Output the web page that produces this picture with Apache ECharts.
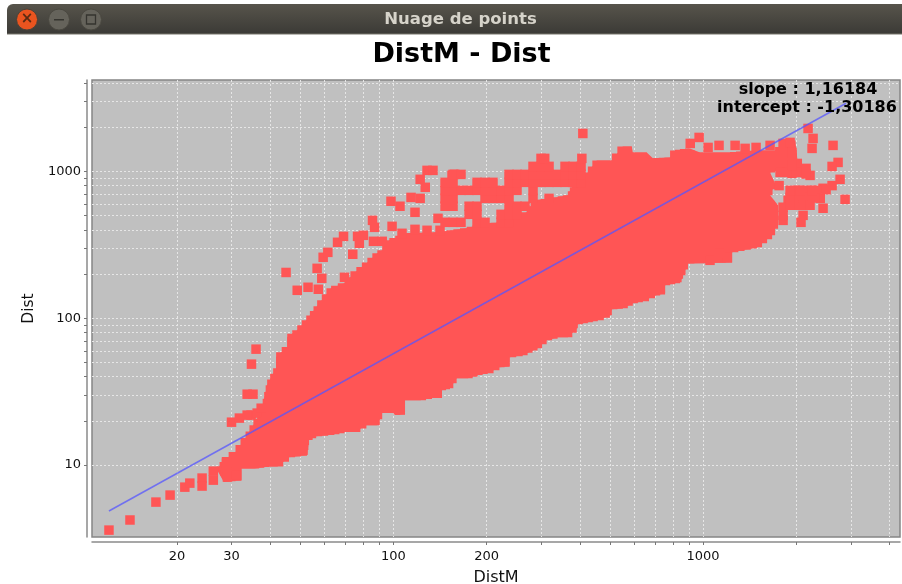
<!DOCTYPE html>
<html>
<head>
<meta charset="utf-8">
<title>Nuage de points</title>
<script src="https://cdn.jsdelivr.net/npm/echarts@6/dist/echarts.min.js"></script>
<style>
  html, body { margin: 0; padding: 0; background: #fff; }
  #main { width: 902px; height: 584px; }
</style>
</head>
<body>
<div id="main"></div>
<script>
// ticks of the two log axes
var xTicks = [20,30,40,50,60,70,80,90,100,200,300,400,500,600,700,800,900,1000,2000,3000,4000];
var xLabels = [20,30,100,200,1000];
var yTicks = [10,20,30,40,50,60,70,80,90,100,200,300,400,500,600,700,800,900,1000,2000,3000,4000];
var yLabels = [10,100,1000];

// regression line [DistM, Dist]
var fitLine = [[12.06,4.87],[2897,2913]];

// outline of the saturated part of the cloud, [DistM, Dist]
var cloudEdge = [
  [27.9,10.5],[30.9,12.3],[33.3,15.3],[37.4,22.9],[39.1,35],[41.8,45.7],[41.8,54.3],[45.4,63.6],
  [45.4,74.3],[48.9,83],[52.3,96.9],[56.7,120.7],[62.9,159.9],[69.5,172.9],[75.9,208.6],[82.4,240],
  [88.7,276.9],[92,290],[97,339.5],[110.6,378.7],[141.4,385],[172.4,409.5],[197,442.9],
  [233.8,449.8],[269.3,526.5],[285.9,635],[326.7,656],[365.8,687],[376.9,778.6],[400,869],[424.5,984],
  [453.9,1188],[507.5,1188],[550.7,1479],[588.5,1479],[593,1347],[658,1347],[689.7,1226],[782.4,1245],
  [812,1389],[906.7,1434],[978,1347],[1222,1347],[1528,1389],[1708,1389],[1985,1625],[2015,1226],
  [1840,1048],[1646,984],[1708,829],[1646,687],[1747,588],[1747,449.8],[1671,367],[1494,304],[1241,281],
  [1241,240],[894,236],[862,196],[843,175.6],[754,167.6],[754,147.8],[700,143],[639,130.5],[593,126.5],
  [550.7,117],[507.5,115],[500,104.8],[457,97],[424.5,94],[394,91],[391,85.6],[365.8,74.3],[339,74.3],
  [312.5,70.9],[292,62.6],[261.4,56],[237.3,54.3],[237.3,47.2],[220,46.4],[201.5,42.3],[187,41],
  [173.8,39],[160,39],[152.3,33.4],[143.5,32.4],[143.5,28.6],[133.2,28.6],[121.9,27.7],[109,27.7],
  [109,22.2],[101.2,21.9],[99.7,22.6],[92,22.6],[88.7,18.7],[81.8,18.7],[74.8,16.8],[69.5,16.8],
  [64.4,16.2],[56.3,15.7],[53.4,14.8],[52.6,11.7],[46,11.3],[42.2,9.8],[39.7,9.8],[35.5,9.5],
  [32.3,9.5],[32.3,7.9],[28.3,7.7],[27,9.2]
];

// single visible squares around the cloud, [DistM, Dist]
var points = [
  [12.06,3.61],[14.1,4.23],[17.1,5.6],[19,6.25],[21.2,7.08],[22,7.54],[24.1,8.16],[24.1,7.2],
  [26.2,7.9],[26.2,9.1],[29.1,8.29],[31.1,8.55],[28.9,10.3],[30,19.6],[31.8,20.9],[34.7,21.9],
  [33.7,21.9],[36.3,22.6],[37.4,24.4],
  [36,61.6],[34.8,48.7],[33.7,30.4],[35.2,30.4],[45,205],[48.9,155],[53,162.5],[57.2,157.5],
  [58.7,187],[56.7,218.7],[59.3,260],[61.4,281],[66,329],[69,361],[73.9,272.7],[69.5,190],
  [76.6,361],[80,367],[77.6,324],[85.6,464],[86.9,416],[86.2,334],[92,334],[98.2,626],[105,579],
  [114,665],[122,655],[117.4,526.5],[99,422.5],[106.6,378.7],[117.4,403],[128.4,397],[141.4,397],
  [128.4,1016],[134.2,1016],[122,883],[126.7,779],[139.3,479],[157.6,954],[154.6,939],[409,1812],
  // dense band above the cloud, rows from Dist 450 up to Dist 1226
  [146.8,450],[155.8,450],[165.3,450],[186.2,450],[197.6,450],[222.6,450],[236.2,450],
  [175.5,510],[186.2,510],[222.6,510],[236.2,510],[250.7,510],
  [146.8,579],[155.8,579],[175.5,579],[186.2,579],[236.2,579],[250.7,579],[266.1,579],
  [146.8,655],[155.8,655],[197.6,655],[209.7,655],[222.6,655],[236.2,655],[282.4,655],[318.1,655],
  [146.8,743],[155.8,743],[165.3,743],[175.5,743],[186.2,743],[197.6,743],[209.7,743],[222.6,743],[236.2,743],[250.7,743],[282.4,743],
  [146.8,842],[155.8,842],[186.2,842],[197.6,842],[209.7,842],[236.2,842],[250.7,842],[266.1,842],[282.4,842],[299.7,842],[318.1,842],[337.6,842],[358.3,842],[380.3,842],[403.6,842],
  [155.8,954],[165.3,954],[236.2,954],[250.7,954],[266.1,954],[282.4,954],[299.7,954],[318.1,954],[337.6,954],[358.3,954],[380.3,954],[403.6,954],
  [282.4,1082],[299.7,1082],[318.1,1082],[358.3,1082],[380.3,1082],[403.6,1082],
  [299.7,1226],[308,1226],[406,1226],
  // upper right end of the cloud
  [971,1703],[909,1550],[1038,1456],[1126,1503],[1269,1503],[1367,1434],[1483,1456],[1646,1503],
  [1813,1550],[1910,1575],[1938,1347],[2183,1960],[2266,1677],[2249,1434],[2629,1503],[2729,1151],
  [2610,1081],[2770,883],[2610,800],[2441,767],[2334,743],[2167,743],[2015,743],[2875,645],[2441,561],
  [2104,502],[2072,450],[1813,464],[1813,502],[2216,939],[2088,984],[1938,969],[1773,984],[2015,1133],
  [1760,800],[1882,635],[2015,665],[2216,665],[2390,655],[1813,570],[2015,588],[1053,248],[1195,260],[1135,277],
  [1910,665],[2104,665],[2300,660],[1910,743],[2057,743],[2249,743],[2496,750],[1910,588],[2104,588],
  [2216,588],[1868,984],[2015,984],[2151,960],[1938,1098],[2151,1048]
];

var chart = echarts.init(document.getElementById('main'));
var fontName = 'DejaVu Sans';

// the edge of the cloud is made of overlapping squares, so walk it in small steps
function stairs(pts, step) {
  var out = [];
  for (var i = 0; i < pts.length; i++) {
    var a = pts[i], b = pts[(i + 1) % pts.length];
    var n = Math.max(1, Math.ceil(Math.max(Math.abs(b[0] - a[0]), Math.abs(b[1] - a[1])) / step));
    for (var k = 0; k < n; k++) {
      out.push([a[0] + (b[0] - a[0]) * k / n, a[1] + (b[1] - a[1]) * (k + 1) / n]);
      out.push([a[0] + (b[0] - a[0]) * (k + 1) / n, a[1] + (b[1] - a[1]) * (k + 1) / n]);
    }
  }
  return out;
}

var option = {
  animation: false,
  backgroundColor: '#fff',
  title: {
    text: 'DistM - Dist',
    left: 456.5,
    top: 36,
    textAlign: 'center',
    textStyle: { fontFamily: fontName, fontSize: 27, fontWeight: 'bold', color: '#000' }
  },
  grid: {
    left: 92, right: 2, top: 80, bottom: 47,
    outerBoundsMode: 'none',
    show: true,
    backgroundColor: '#c0c0c0',
    borderColor: '#858585',
    borderWidth: 1.5
  },
  xAxis: {
    type: 'log',
    min: 10.63,
    max: 4325,
    offset: 5,
    name: 'DistM',
    nameLocation: 'middle',
    nameGap: 28,
    nameTextStyle: { fontFamily: fontName, fontSize: 16, color: '#111' },
    axisLine: { onZero: false, lineStyle: { color: '#8a8a8a', width: 1.5 } },
    axisTick: { customValues: xTicks, length: 3, lineStyle: { color: '#777' } },
    axisLabel: {
      customValues: xLabels, margin: 8, fontFamily: fontName, fontSize: 13, color: '#111',
      formatter: function (v) { return String(v); }
    },
    splitLine: { show: true, lineStyle: { color: '#e6e6e6', type: [2, 2], width: 1 } },
    minorTick: { show: false }
  },
  yAxis: {
    type: 'log',
    min: 3.24,
    max: 4190,
    offset: 5,
    name: 'Dist',
    nameLocation: 'middle',
    nameGap: 44,
    nameTextStyle: { fontFamily: fontName, fontSize: 15.5, color: '#111' },
    axisLine: { onZero: false, lineStyle: { color: '#8a8a8a', width: 1.5 } },
    axisTick: { customValues: yTicks, length: 3, lineStyle: { color: '#777' } },
    axisLabel: {
      customValues: yLabels, margin: 6, fontFamily: fontName, fontSize: 13, color: '#111',
      formatter: function (v) { return String(v); }
    },
    splitLine: { show: true, lineStyle: { color: '#e6e6e6', type: [2, 2], width: 1 } },
    minorTick: { show: false }
  },
  series: [
    {
      // the saturated part of the cloud, too dense to show single squares
      type: 'custom',
      silent: true,
      z: 2,
      data: [cloudEdge[0]],
      renderItem: function (params, api) {
        var px = cloudEdge.map(function (p) { return api.coord(p); });
        return {
          type: 'group',
          children: [
            { type: 'polygon', shape: { points: px }, style: { fill: '#ff5555' } },
            { type: 'polygon', shape: { points: stairs(px, 7) }, style: { fill: '#ff5555' } }
          ]
        };
      }
    },
    {
      type: 'scatter',
      symbol: 'rect',
      symbolSize: 9.5,
      z: 3,
      itemStyle: { color: '#ff5555', opacity: 1 },
      data: points
    },
    {
      type: 'line',
      z: 4,
      symbol: 'none',
      lineStyle: { color: 'rgba(85,85,255,0.75)', width: 1.6 },
      data: fitLine
    }
  ],
  // window title bar and the two text annotations of the plot
  graphic: [
    {
      type: 'rect', z: 10,
      shape: { x: 7, y: 4, width: 895, height: 30, r: [6, 0, 0, 0] },
      style: {
        fill: new echarts.graphic.LinearGradient(0, 0, 0, 1, [
          { offset: 0, color: '#57544b' },
          { offset: 1, color: '#3b3a36' }
        ])
      }
    },
    { type: 'rect', z: 11, shape: { x: 7, y: 33.5, width: 895, height: 1 }, style: { fill: '#77746a' } },
    { type: 'circle', z: 11, shape: { cx: 27, cy: 19.5, r: 10.5 }, style: { fill: '#e9541f', stroke: '#4a4238', lineWidth: 1 } },
    { type: 'text', z: 12, style: { x: 27, y: 19.5, text: '×', fill: '#5a2a12', font: 'bold 15px "DejaVu Sans"', align: 'center', verticalAlign: 'middle' } },
    { type: 'circle', z: 11, shape: { cx: 59, cy: 19.5, r: 10.5 }, style: { fill: '#65635b', stroke: '#4a4840', lineWidth: 1 } },
    { type: 'rect', z: 12, shape: { x: 54, y: 19, width: 10, height: 1.5 }, style: { fill: '#35342f' } },
    { type: 'circle', z: 11, shape: { cx: 91, cy: 19.5, r: 10.5 }, style: { fill: '#65635b', stroke: '#4a4840', lineWidth: 1 } },
    { type: 'rect', z: 12, shape: { x: 86.5, y: 15, width: 9, height: 9 }, style: { fill: 'none', stroke: '#35342f', lineWidth: 1.3 } },
    { type: 'text', z: 12, style: { x: 460.5, y: 20, text: 'Nuage de points', fill: '#d6d3ca', font: 'bold 16.5px "DejaVu Sans"', align: 'center', verticalAlign: 'middle' } },
    { type: 'text', z: 20, style: { x: 808, y: 90, text: 'slope : 1,16184', fill: '#000', font: 'bold 16px "DejaVu Sans"', align: 'center', verticalAlign: 'middle' } },
    { type: 'text', z: 20, style: { x: 807, y: 108, text: 'intercept : -1,30186', fill: '#000', font: 'bold 16px "DejaVu Sans"', align: 'center', verticalAlign: 'middle' } }
  ]
};

chart.setOption(option);
</script>
</body>
</html>
